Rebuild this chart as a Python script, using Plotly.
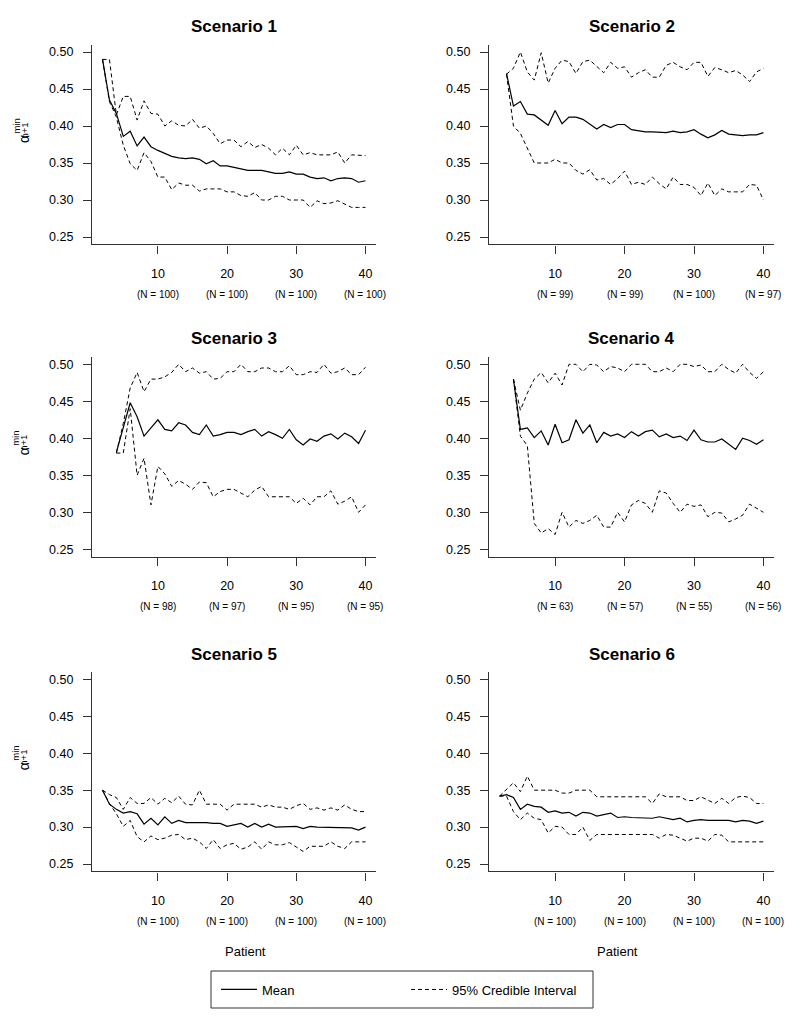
import plotly.graph_objects as go
from plotly.subplots import make_subplots

# patient index (x) where each scenario starts, all end at 40
start1 = 2
start2 = 3
start3 = 4
start4 = 4
start5 = 2
start6 = 2

# Scenario 1
mean1 = [0.490, 0.435, 0.417, 0.386, 0.393, 0.373, 0.385, 0.372, 0.367,
         0.363, 0.359, 0.357, 0.356, 0.357, 0.355, 0.349, 0.353, 0.346, 0.346,
         0.344, 0.342, 0.340, 0.340, 0.340, 0.338, 0.336, 0.336, 0.338, 0.335,
         0.335, 0.331, 0.329, 0.330, 0.326, 0.329, 0.330, 0.329, 0.324, 0.326]
upper1 = [0.490, 0.490, 0.415, 0.440, 0.440, 0.408, 0.434, 0.417, 0.416,
          0.400, 0.407, 0.401, 0.400, 0.409, 0.397, 0.400, 0.390, 0.376, 0.381,
          0.381, 0.372, 0.379, 0.371, 0.375, 0.370, 0.361, 0.370, 0.361, 0.374,
          0.361, 0.364, 0.361, 0.361, 0.361, 0.365, 0.350, 0.361, 0.360, 0.360]
lower1 = [0.490, 0.433, 0.412, 0.374, 0.349, 0.340, 0.364, 0.352, 0.331,
          0.331, 0.314, 0.323, 0.320, 0.320, 0.312, 0.315, 0.315, 0.315, 0.311,
          0.311, 0.306, 0.305, 0.310, 0.300, 0.300, 0.305, 0.305, 0.300, 0.300,
          0.300, 0.290, 0.299, 0.295, 0.296, 0.299, 0.295, 0.290, 0.290, 0.290]

# Scenario 2
mean2 = [0.471, 0.427, 0.433, 0.416, 0.415, 0.408, 0.401, 0.421,
         0.403, 0.412, 0.412, 0.409, 0.402, 0.396, 0.402, 0.398, 0.402, 0.402,
         0.395, 0.393, 0.392, 0.392, 0.391, 0.391, 0.393, 0.391, 0.392, 0.395,
         0.389, 0.384, 0.388, 0.394, 0.389, 0.388, 0.387, 0.388, 0.388, 0.391]
upper2 = [0.470, 0.478, 0.500, 0.473, 0.462, 0.499, 0.458, 0.478,
          0.489, 0.487, 0.471, 0.487, 0.489, 0.480, 0.472, 0.486, 0.478, 0.480,
          0.466, 0.472, 0.476, 0.466, 0.466, 0.482, 0.486, 0.480, 0.476, 0.486,
          0.486, 0.467, 0.479, 0.476, 0.472, 0.475, 0.469, 0.460, 0.473, 0.478]
lower2 = [0.470, 0.400, 0.390, 0.370, 0.350, 0.350, 0.350, 0.355,
          0.350, 0.350, 0.340, 0.335, 0.341, 0.327, 0.329, 0.321, 0.329, 0.339,
          0.321, 0.324, 0.321, 0.331, 0.322, 0.315, 0.331, 0.321, 0.321, 0.317,
          0.306, 0.323, 0.306, 0.315, 0.311, 0.311, 0.311, 0.321, 0.320, 0.300]

# Scenario 3
mean3 = [0.381, 0.416, 0.448, 0.429, 0.403, 0.414, 0.425,
         0.412, 0.410, 0.421, 0.418, 0.408, 0.405, 0.418, 0.403, 0.405, 0.408,
         0.408, 0.405, 0.409, 0.412, 0.403, 0.409, 0.405, 0.400, 0.412, 0.398,
         0.391, 0.399, 0.396, 0.403, 0.406, 0.399, 0.407, 0.402, 0.393, 0.411]
upper3 = [0.380, 0.420, 0.468, 0.489, 0.463, 0.480, 0.480,
          0.483, 0.489, 0.500, 0.490, 0.495, 0.488, 0.490, 0.480, 0.481, 0.490,
          0.490, 0.500, 0.490, 0.490, 0.495, 0.495, 0.490, 0.490, 0.498, 0.486,
          0.486, 0.490, 0.489, 0.500, 0.488, 0.490, 0.495, 0.486, 0.486, 0.496]
lower3 = [0.380, 0.380, 0.440, 0.350, 0.373, 0.310, 0.362,
          0.352, 0.335, 0.343, 0.338, 0.331, 0.341, 0.340, 0.321, 0.328, 0.331,
          0.331, 0.326, 0.321, 0.330, 0.335, 0.321, 0.321, 0.321, 0.321, 0.312,
          0.319, 0.310, 0.321, 0.321, 0.329, 0.311, 0.315, 0.321, 0.300, 0.310]

# Scenario 4
mean4 = [0.480, 0.412, 0.414, 0.401, 0.410, 0.391, 0.419,
         0.394, 0.398, 0.425, 0.407, 0.418, 0.394, 0.408, 0.403, 0.406, 0.401,
         0.409, 0.403, 0.409, 0.411, 0.402, 0.406, 0.401, 0.403, 0.397, 0.411,
         0.398, 0.395, 0.395, 0.399, 0.392, 0.385, 0.400, 0.397, 0.392, 0.398]
upper4 = [0.480, 0.438, 0.461, 0.480, 0.489, 0.475, 0.488,
          0.472, 0.500, 0.500, 0.490, 0.500, 0.499, 0.490, 0.497, 0.495, 0.490,
          0.500, 0.500, 0.500, 0.490, 0.490, 0.495, 0.490, 0.500, 0.500, 0.497,
          0.499, 0.490, 0.490, 0.500, 0.493, 0.488, 0.500, 0.489, 0.481, 0.490]
lower4 = [0.480, 0.403, 0.390, 0.285, 0.272, 0.278, 0.270,
          0.300, 0.280, 0.289, 0.285, 0.289, 0.296, 0.280, 0.280, 0.300, 0.287,
          0.310, 0.316, 0.312, 0.300, 0.329, 0.326, 0.312, 0.300, 0.311, 0.308,
          0.310, 0.294, 0.300, 0.299, 0.287, 0.291, 0.296, 0.311, 0.305, 0.300]

# Scenario 5
mean5 = [0.350, 0.331, 0.324, 0.319, 0.321, 0.318, 0.304, 0.312, 0.303,
         0.314, 0.305, 0.309, 0.306, 0.306, 0.307, 0.306, 0.305, 0.305, 0.301,
         0.303, 0.305, 0.300, 0.305, 0.300, 0.304, 0.300, 0.300, 0.301, 0.301,
         0.298, 0.301, 0.300, 0.300, 0.300, 0.300, 0.299, 0.299, 0.296, 0.300]
upper5 = [0.350, 0.344, 0.340, 0.324, 0.340, 0.332, 0.332, 0.340, 0.331,
          0.339, 0.333, 0.342, 0.331, 0.330, 0.350, 0.331, 0.331, 0.331, 0.323,
          0.331, 0.331, 0.331, 0.331, 0.327, 0.330, 0.327, 0.327, 0.324, 0.329,
          0.332, 0.324, 0.326, 0.323, 0.326, 0.323, 0.330, 0.324, 0.321, 0.321]
lower5 = [0.350, 0.332, 0.318, 0.301, 0.309, 0.287, 0.280, 0.288, 0.283,
          0.285, 0.289, 0.290, 0.283, 0.285, 0.280, 0.271, 0.283, 0.271, 0.276,
          0.278, 0.270, 0.273, 0.280, 0.270, 0.280, 0.276, 0.276, 0.279, 0.273,
          0.267, 0.274, 0.274, 0.274, 0.280, 0.274, 0.271, 0.280, 0.280, 0.280]

# Scenario 6
mean6 = [0.342, 0.344, 0.340, 0.324, 0.331, 0.328, 0.327, 0.320, 0.322,
         0.319, 0.320, 0.315, 0.320, 0.319, 0.315, 0.317, 0.319, 0.313, 0.314,
         0.313, 0.313, 0.312, 0.312, 0.314, 0.312, 0.310, 0.312, 0.307, 0.309,
         0.310, 0.309, 0.309, 0.309, 0.309, 0.307, 0.309, 0.308, 0.305, 0.308]
upper6 = [0.342, 0.351, 0.360, 0.348, 0.369, 0.350, 0.350, 0.350, 0.350,
          0.346, 0.346, 0.350, 0.350, 0.350, 0.341, 0.341, 0.341, 0.341, 0.341,
          0.341, 0.341, 0.341, 0.332, 0.345, 0.341, 0.341, 0.341, 0.336, 0.336,
          0.341, 0.337, 0.332, 0.339, 0.332, 0.340, 0.342, 0.340, 0.332, 0.332]
lower6 = [0.342, 0.342, 0.321, 0.310, 0.319, 0.312, 0.310, 0.292, 0.301,
          0.300, 0.290, 0.290, 0.300, 0.282, 0.290, 0.290, 0.290, 0.290, 0.290,
          0.290, 0.290, 0.290, 0.290, 0.285, 0.290, 0.289, 0.285, 0.281, 0.285,
          0.285, 0.281, 0.290, 0.289, 0.280, 0.280, 0.280, 0.280, 0.280, 0.280]

# number of simulations at patients 10, 20, 30, 40
n1 = [100, 100, 100, 100]
n2 = [99, 99, 100, 97]
n3 = [98, 97, 95, 95]
n4 = [63, 57, 55, 56]
n5 = [100, 100, 100, 100]
n6 = [100, 100, 100, 100]

x_ticks = [10, 20, 30, 40]
y_ticks = [0.25, 0.30, 0.35, 0.40, 0.45, 0.50]
titles = ["Scenario 1", "Scenario 2", "Scenario 3", "Scenario 4", "Scenario 5", "Scenario 6"]

scenarios = [
    (start1, mean1, upper1, lower1, n1),
    (start2, mean2, upper2, lower2, n2),
    (start3, mean3, upper3, lower3, n3),
    (start4, mean4, upper4, lower4, n4),
    (start5, mean5, upper5, lower5, n5),
    (start6, mean6, upper6, lower6, n6),
]

# the page body has an 8px margin, so the figure is drawn 8px in from the corner
OFF = 8
W, H = 800 - OFF, 1027 - OFF
FONT = "Liberation Sans, Arial, Helvetica, sans-serif"


def px(x):
    return (x - OFF) / W


def py(y):
    return 1 - (y - OFF) / H


# panel boxes in window pixels (left, right) / (top, bottom)
cols = [(92, 376), (489, 774)]
rows = [(44.6, 244.4), (356.9, 556.7), (672.0, 871.4)]

fig = make_subplots(rows=3, cols=2)

for i, (start, mean, upper, lower, nn) in enumerate(scenarios):
    r = i // 2 + 1
    c = i % 2 + 1
    xs = list(range(start, 41))
    first = (i == 0)
    fig.add_trace(go.Scatter(x=xs, y=mean, mode="lines", name="Mean",
                             line=dict(color="black", width=1.2),
                             showlegend=first, legendgroup="mean"), row=r, col=c)
    fig.add_trace(go.Scatter(x=xs, y=upper, mode="lines", name="95% Credible Interval",
                             line=dict(color="black", width=1.0, dash="4px,3px"),
                             showlegend=first, legendgroup="ci"), row=r, col=c)
    fig.add_trace(go.Scatter(x=xs, y=lower, mode="lines", name="95% Credible Interval",
                             line=dict(color="black", width=1.0, dash="4px,3px"),
                             showlegend=False, legendgroup="ci"), row=r, col=c)

    xl, xr = cols[c - 1]
    yt, yb = rows[r - 1]
    fig.update_xaxes(row=r, col=c, domain=[px(xl), px(xr)], range=[0.48, 41.52],
                     tickvals=x_ticks, ticktext=[str(t) for t in x_ticks],
                     showline=True, linecolor="#333", linewidth=1.2,
                     ticks="outside", ticklen=8, tickcolor="#333", tickwidth=1.2,
                     ticklabelstandoff=9, showgrid=False, zeroline=False,
                     tickfont=dict(family=FONT, size=12.5, color="black"))
    fig.update_yaxes(row=r, col=c, domain=[py(yb), py(yt)], range=[0.24, 0.51],
                     tickvals=y_ticks, ticktext=["%.2f" % t for t in y_ticks],
                     showline=True, linecolor="#333", linewidth=1.2,
                     ticks="outside", ticklen=8, tickcolor="#333", tickwidth=1.2,
                     ticklabelstandoff=7, showgrid=False, zeroline=False,
                     tickfont=dict(family=FONT, size=12.5, color="black"))

    xname = "x" if i == 0 else "x%d" % (i + 1)
    yname = "y" if i == 0 else "y%d" % (i + 1)

    # panel title
    fig.add_annotation(text="<b>" + titles[i] + "</b>", xref=xname + " domain", yref=yname + " domain",
                       x=0.5, y=1, yshift=18, xanchor="center", yanchor="middle", showarrow=False,
                       font=dict(family=FONT, size=17, color="black"))
    # N under each tick
    for t, n in zip(x_ticks, nn):
        fig.add_annotation(text="(N = %d)" % n, xref=xname, yref=yname + " domain",
                           x=t, y=0, yshift=-50, xanchor="center", yanchor="middle", showarrow=False,
                           font=dict(family=FONT, size=10, color="black"))
    # y label on the left panels: alpha with stacked min / n+1
    if c == 1:
        fig.add_annotation(text="α", xref="paper", yref=yname + " domain",
                           x=px(23.5), y=0.5, yshift=5, xanchor="center", yanchor="middle",
                           textangle=-90, showarrow=False,
                           font=dict(family=FONT, size=14, color="black"))
        fig.add_annotation(text="min", xref="paper", yref=yname + " domain",
                           x=px(16), y=0.5, yshift=18, xanchor="center", yanchor="middle",
                           textangle=-90, showarrow=False,
                           font=dict(family=FONT, size=9.5, color="black"))
        fig.add_annotation(text="n+1", xref="paper", yref=yname + " domain",
                           x=px(24), y=0.5, yshift=14, xanchor="center", yanchor="middle",
                           textangle=-90, showarrow=False,
                           font=dict(family=FONT, size=9.5, color="black"))

# x label under bottom row
fig.add_annotation(text="Patient", xref="paper", yref="paper", x=px(245), y=py(951),
                   xanchor="center", yanchor="middle",
                   showarrow=False, font=dict(family=FONT, size=13, color="black"))
fig.add_annotation(text="Patient", xref="paper", yref="paper", x=px(617), y=py(951),
                   xanchor="center", yanchor="middle",
                   showarrow=False, font=dict(family=FONT, size=13, color="black"))

# legend frame
fig.add_shape(type="rect", xref="paper", yref="paper",
              x0=px(211), x1=px(593), y0=py(1008), y1=py(971),
              line=dict(color="#333", width=1), fillcolor="rgba(0,0,0,0)")

fig.update_layout(
    width=W, height=H,
    margin=dict(l=0, r=0, t=0, b=0),
    plot_bgcolor="white", paper_bgcolor="white",
    font=dict(family=FONT, color="black"),
    legend=dict(orientation="h", x=px(216), y=py(989.5), xanchor="left", yanchor="middle",
                bgcolor="rgba(0,0,0,0)", borderwidth=0, itemwidth=36,
                entrywidth=139, entrywidthmode="pixels",
                font=dict(family=FONT, size=13, color="black")),
)

fig.write_html("out.html")
